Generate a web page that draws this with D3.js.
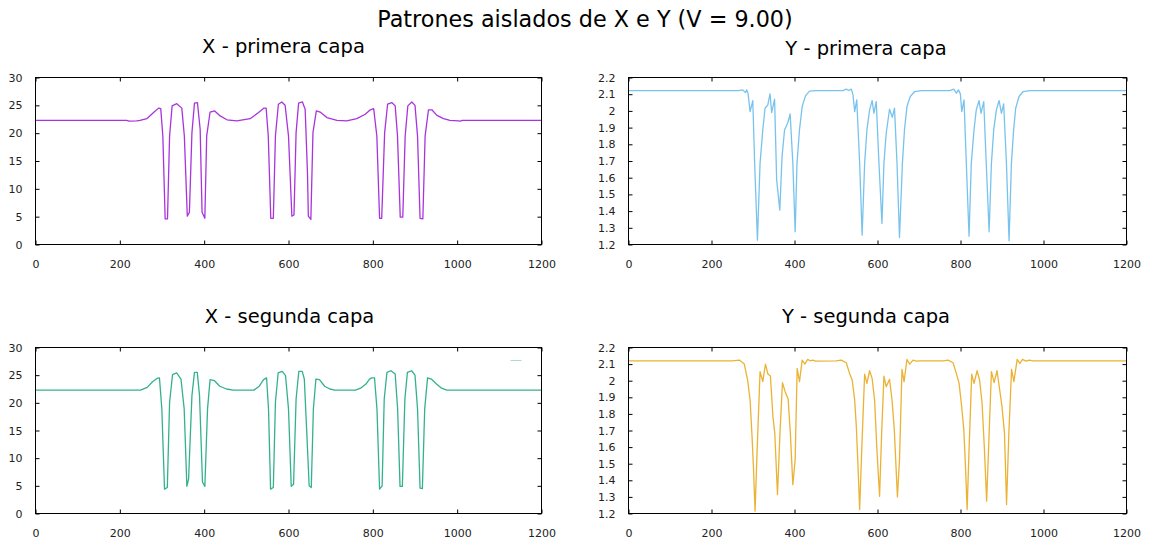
<!DOCTYPE html>
<html>
<head>
<meta charset="utf-8">
<script src="https://cdn.jsdelivr.net/npm/d3@7"></script>
<style>
  html, body { margin: 0; padding: 0; background: #fff; }
  svg { display: block; font-family: "DejaVu Sans", sans-serif; }
</style>
</head>
<body>
<svg id="chart" width="1154" height="543"></svg>
<script>
// ---- Data ----------------------------------------------------------------
const mainTitle = "Patrones aislados de X e Y (V = 9.00)";
const panelTitles = ["X - primera capa", "Y - primera capa", "X - segunda capa", "Y - segunda capa"];

const positionTicks = [0, 200, 400, 600, 800, 1000, 1200];
const xValueTicks = [0, 5, 10, 15, 20, 25, 30];
const yValueTicks = [1.2, 1.3, 1.4, 1.5, 1.6, 1.7, 1.8, 1.9, 2.0, 2.1, 2.2];

// X, primera capa
const posXPrimera = [
  0, 216, 222, 240, 248, 264, 280, 292, 297, 302,
  307.5, 313, 318, 324, 335, 347, 353, 360, 365, 371,
  377, 384, 390.5, 395, 401.6, 406, 414, 425, 438, 454,
  477.5, 509, 529, 542, 547, 552, 558, 564, 569, 576,
  584, 592, 600, 608, 613, 618, 624, 633, 639.5, 645,
  647, 653, 658, 666, 675, 691, 715, 738, 762, 782,
  794, 802, 809.5, 816, 821, 828, 835, 845, 853, 858.5,
  865, 871, 876.7, 883, 892.5, 900, 906, 912, 918.6, 924,
  932, 940, 952, 967.6, 983, 1003, 1008, 1012, 1200
];
const valXPrimera = [
  22.3, 22.3, 22.15, 22.2, 22.3, 22.6, 23.7, 24.5, 24.4, 19.5,
  4.6, 4.6, 19.5, 24.9, 25.3, 24.5, 19.5, 5.1, 5.8, 20.1,
  25.4, 25.5, 20.7, 5.8, 4.7, 19.5, 23.8, 24.0, 23.1, 22.4,
  22.2, 22.6, 23.7, 24.5, 24.5, 19.5, 4.7, 4.7, 19.5, 25.2,
  25.6, 25.0, 19.5, 5.1, 5.3, 20.1, 25.4, 25.6, 24.3, 12.9,
  5.1, 4.5, 20.1, 24.0, 23.8, 22.8, 22.3, 22.2, 22.6, 23.4,
  24.2, 24.4, 19.5, 4.7, 4.7, 20.1, 25.2, 25.5, 24.9, 19.5,
  4.9, 4.9, 19.5, 24.9, 25.6, 25.0, 19.5, 4.7, 4.6, 19.5,
  24.2, 24.2, 23.2, 22.6, 22.3, 22.2, 22.15, 22.3, 22.3
];

// Y, primera capa
const posYPrimera = [
  0, 265, 275, 282, 285, 288, 293, 299.5, 304, 310.7,
  317, 323.6, 329, 335.7, 341, 345, 352, 357, 364.6, 370,
  376, 384, 389.5, 396, 401.6, 406, 412, 418.5, 426.5, 436,
  452, 516.6, 524.7, 531, 537, 541, 545, 550, 557, 563,
  569, 574.5, 581, 587, 591.4, 597, 603.5, 610.7, 615.5, 621,
  629, 635.6, 641, 647, 653, 660, 665, 671, 679, 689.5,
  705.6, 774, 783.6, 790, 795, 799.7, 803, 808.5, 814, 820.6,
  826, 832.6, 838, 844.7, 849.5, 856, 862, 869, 874.5, 880,
  886.5, 893, 898.6, 904, 910.7, 917, 922.7, 928, 933, 941,
  951, 967, 1200
];
const valYPrimera = [
  2.122, 2.122, 2.126, 2.11, 2.126, 2.106, 1.996, 2.062, 1.686, 1.226,
  1.686, 1.886, 2.016, 2.036, 2.102, 1.99, 2.07, 1.586, 1.406, 1.726,
  1.886, 1.93, 1.982, 1.686, 1.276, 1.686, 1.886, 2.026, 2.09, 2.118,
  2.122, 2.122, 2.13, 2.122, 2.13, 2.096, 1.996, 2.066, 1.686, 1.256,
  1.686, 1.886, 2.006, 2.062, 1.986, 2.056, 1.686, 1.326, 1.686, 1.866,
  2.01, 1.962, 2.016, 1.686, 1.242, 1.686, 1.886, 2.026, 2.086, 2.116,
  2.122, 2.122, 2.13, 2.106, 2.126, 2.102, 1.996, 2.066, 1.686, 1.25,
  1.686, 1.886, 2.006, 2.062, 1.986, 2.056, 1.686, 1.276, 1.686, 1.886,
  2.006, 2.062, 1.986, 2.042, 1.686, 1.222, 1.686, 1.886, 2.016, 2.086,
  2.116, 2.122, 2.122
];

// X, segunda capa
const posXSegunda = [
  0, 249, 265, 277.5, 288, 294, 299.6, 306, 312.6, 318,
  325, 334.7, 345, 352.6, 359, 363, 371, 377, 383.7, 389,
  396, 401.6, 408, 414, 424.5, 437, 453, 469, 518, 530.6,
  541, 548, 552.6, 557.5, 564, 569, 575.5, 585, 593, 600,
  606.5, 612, 618, 624.5, 632.6, 637.5, 643, 649, 654, 659,
  665, 673.5, 685.7, 698, 710, 759, 771, 783.7, 792, 797.5,
  804, 809.8, 816, 822, 827, 833.5, 843, 853, 858.8, 864.5,
  870, 876, 882, 892, 900, 906, 912, 917.5, 923, 929.8,
  938.7, 951, 963, 975.5, 1200
];
const valXSegunda = [
  22.3, 22.3, 22.8, 23.8, 24.4, 24.5, 18.9, 4.4, 4.7, 20.1,
  25.1, 25.4, 24.3, 18.9, 4.9, 6.2, 21.3, 25.5, 25.5, 21.3,
  5.7, 4.9, 18.9, 24.2, 24.0, 23.0, 22.5, 22.3, 22.3, 23.0,
  24.2, 24.5, 18.9, 4.4, 4.7, 20.1, 25.4, 25.7, 24.9, 18.9,
  4.9, 5.3, 20.7, 25.7, 25.7, 24.3, 15.2, 5.0, 4.7, 18.9,
  24.3, 24.2, 23.0, 22.5, 22.3, 22.3, 22.65, 23.4, 24.3, 24.5,
  24.5, 18.9, 4.4, 5.0, 20.7, 25.5, 25.8, 25.2, 18.9, 4.9,
  4.9, 20.7, 25.5, 25.8, 25.0, 18.9, 4.6, 4.5, 18.9, 24.5,
  24.3, 23.4, 22.65, 22.3, 22.3
];

// Y, segunda capa
const posYSegunda = [
  0, 250, 267, 279, 287, 293, 297.7, 301, 305, 310,
  317, 323.6, 330, 336, 342, 348, 352.5, 359, 365, 371,
  377.5, 384.7, 390, 396, 401.6, 406.4, 412, 418.5, 425, 431.5,
  438, 444, 450.6, 500, 512.6, 524.7, 532.7, 539, 545, 549,
  553, 557, 562, 569, 574.5, 581, 587, 593, 598.6, 605,
  610, 615.5, 621, 629, 635, 640.5, 648, 653, 659, 664,
  671, 677.5, 685.6, 693.5, 701.5, 758, 770, 782, 790, 796.6,
  802, 808, 812, 816, 820.6, 827, 832.6, 840, 846, 852,
  857.7, 863, 869, 874.5, 881, 888, 894.5, 900, 906, 911,
  916.5, 923, 928.6, 936.6, 943, 949.5, 957.6, 965.6, 975, 1200
];
const valYSegunda = [
  2.12, 2.12, 2.124, 2.1, 2.004, 1.884, 1.664, 1.484, 1.214, 1.584,
  2.054, 1.994, 2.1, 2.04, 2.028, 1.784, 1.684, 1.314, 1.684, 1.988,
  1.934, 1.888, 1.684, 1.374, 1.524, 2.074, 1.994, 2.124, 2.1, 2.128,
  2.12, 2.124, 2.118, 2.12, 2.124, 2.108, 2.044, 2.004, 1.884, 1.724,
  1.484, 1.224, 1.584, 2.04, 1.984, 2.06, 2.014, 1.884, 1.584, 1.304,
  1.684, 2.028, 1.964, 2.008, 1.884, 1.704, 1.3, 1.524, 2.068, 1.994,
  2.128, 2.1, 2.124, 2.118, 2.12, 2.12, 2.124, 2.108, 2.044, 1.984,
  1.864, 1.704, 1.484, 1.224, 1.584, 2.04, 1.984, 2.06, 2.004, 1.864,
  1.584, 1.274, 1.684, 2.054, 1.988, 2.06, 1.944, 1.844, 1.684, 1.254,
  1.684, 2.068, 1.994, 2.128, 2.104, 2.128, 2.118, 2.124, 2.12, 2.12
];

const seriesColors = ["#9400d3", "#56b4e9", "#009e73", "#e69f00"];

// ---- Layout ----------------------------------------------------------------
const svg = d3.select("#chart");
const W = 1154;

svg.append("text")
  .attr("x", W / 2 + 8).attr("y", 27)
  .attr("text-anchor", "middle")
  .attr("font-size", 22.3)
  .attr("fill", "#000")
  .text(mainTitle);

const panels = [
  { title: panelTitles[0], pos: posXPrimera, val: valXPrimera, color: seriesColors[0],
    domain: [0, 30], ticks: xValueTicks, x0: 35.5, x1: 541.5, y0: 77.5, y1: 244.5, cx: 283.5, ty: 53, key: false },
  { title: panelTitles[1], pos: posYPrimera, val: valYPrimera, color: seriesColors[1],
    domain: [1.2, 2.2], ticks: yValueTicks, x0: 628.5, x1: 1126.5, y0: 77.5, y1: 244.5, cx: 866, ty: 55, key: false },
  { title: panelTitles[2], pos: posXSegunda, val: valXSegunda, color: seriesColors[2],
    domain: [0, 30], ticks: xValueTicks, x0: 35.5, x1: 541.5, y0: 347.5, y1: 513.5, cx: 289.5, ty: 322.5, key: true },
  { title: panelTitles[3], pos: posYSegunda, val: valYSegunda, color: seriesColors[3],
    domain: [1.2, 2.2], ticks: yValueTicks, x0: 628.5, x1: 1126.5, y0: 347.5, y1: 513.5, cx: 866, ty: 323, key: false }
];

const tickLen = 4;
const fmtValue = d3.format("~g");
const fmtPos = d3.format("d");

panels.forEach(p => {
  const x = d3.scaleLinear().domain([0, 1200]).range([p.x0, p.x1]);
  const y = d3.scaleLinear().domain(p.domain).range([p.y1, p.y0]);
  const g = svg.append("g");

  // subplot title
  g.append("text")
    .attr("x", p.cx).attr("y", p.ty)
    .attr("text-anchor", "middle")
    .attr("font-size", 19.5)
    .attr("fill", "#000")
    .text(p.title);

  // ticks on all four sides, pointing inward
  const axB = d3.axisBottom(x).tickValues(positionTicks).tickSizeInner(-tickLen).tickSizeOuter(0).tickPadding(16).tickFormat(fmtPos);
  const axT = d3.axisTop(x).tickValues(positionTicks).tickSizeInner(-tickLen).tickSizeOuter(0).tickFormat("");
  const axL = d3.axisLeft(y).tickValues(p.ticks).tickSizeInner(-tickLen).tickSizeOuter(0).tickPadding(13).tickFormat(fmtValue);
  const axR = d3.axisRight(y).tickValues(p.ticks).tickSizeInner(-tickLen).tickSizeOuter(0).tickFormat("");

  const gb = g.append("g").attr("transform", `translate(0,${p.y1})`).call(axB);
  const gt = g.append("g").attr("transform", `translate(0,${p.y0})`).call(axT);
  const gl = g.append("g").attr("transform", `translate(${p.x0},0)`).call(axL);
  const gr = g.append("g").attr("transform", `translate(${p.x1},0)`).call(axR);

  [gb, gt, gl, gr].forEach(a => {
    a.select(".domain").remove();
    a.selectAll(".tick line").attr("stroke", "#000").attr("stroke-width", 1);
    a.selectAll(".tick text")
      .attr("font-family", "DejaVu Sans, sans-serif")
      .attr("font-size", 11)
      .attr("fill", "#222");
  });

  // the data line
  const line = d3.line()
    .x((d, i) => x(p.pos[i]))
    .y(d => y(d));
  g.append("path")
    .datum(p.val)
    .attr("d", line)
    .attr("fill", "none")
    .attr("stroke", p.color)
    .attr("stroke-opacity", 0.8)
    .attr("stroke-width", 1.3)
    .attr("stroke-linejoin", "round");

  // empty key sample
  if (p.key) {
    g.append("line")
      .attr("x1", p.x1 - 31).attr("x2", p.x1 - 20)
      .attr("y1", p.y0 + 13).attr("y2", p.y0 + 13)
      .attr("stroke", p.color).attr("stroke-opacity", 0.35).attr("stroke-width", 1);
  }

  // frame
  g.append("rect")
    .attr("x", p.x0).attr("y", p.y0)
    .attr("width", p.x1 - p.x0).attr("height", p.y1 - p.y0)
    .attr("fill", "none")
    .attr("stroke", "#000")
    .attr("stroke-width", 1);
});
</script>
</body>
</html>
